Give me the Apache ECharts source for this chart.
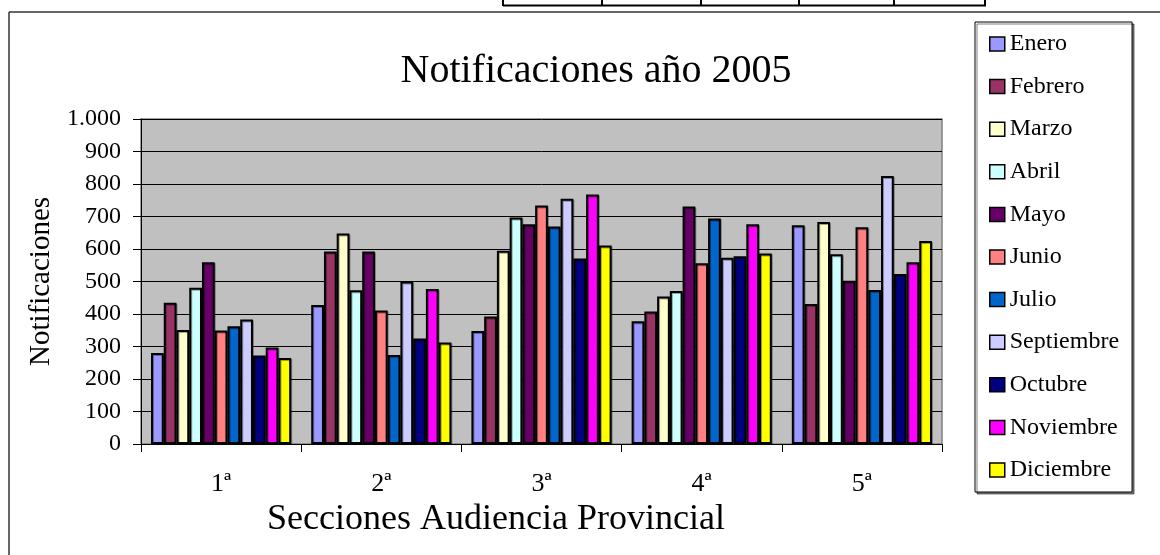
<!DOCTYPE html>
<html>
<head>
<meta charset="utf-8">
<script src="https://cdn.jsdelivr.net/npm/echarts@6/dist/echarts.min.js"></script>
<style>
  html, body { margin: 0; padding: 0; background: #fff; }
  #chart { width: 1160px; height: 555px; }
</style>
</head>
<body>
<div id="chart"></div>
<script>
// secciones
const secciones = ['1ª', '2ª', '3ª', '4ª', '5ª']
const meses = ['Enero', 'Febrero', 'Marzo', 'Abril', 'Mayo', 'Junio', 'Julio', 'Septiembre', 'Octubre', 'Noviembre', 'Diciembre']

// notificaciones por mes (una por sección)
const enero = [280, 428, 348, 378, 673]
const febrero = [435, 592, 392, 408, 431]
const marzo = [351, 648, 595, 454, 683]
const abril = [481, 473, 697, 471, 584]
const mayo = [559, 592, 676, 731, 502]
const junio = [349, 411, 734, 556, 667]
const julio = [362, 274, 669, 694, 474]
const septiembre = [383, 500, 755, 573, 825]
const octubre = [272, 325, 571, 578, 523]
const noviembre = [297, 477, 768, 676, 559]
const diciembre = [265, 312, 611, 586, 625]

const yTicks = [0, 100, 200, 300, 400, 500, 600, 700, 800, 900, 1000]

const valores = [enero, febrero, marzo, abril, mayo, junio, julio, septiembre, octubre, noviembre, diciembre]
const colores = ['#9999FF', '#993366', '#FFFFCC', '#CCFFFF', '#660066', '#FF8080', '#0066CC', '#CCCCFF', '#000080', '#FF00FF', '#FFFF00']

const FONT = '"Liberation Serif", "Times New Roman", serif'

const chart = echarts.init(document.getElementById('chart'), null, { renderer: 'canvas' })

const series = meses.map((m, i) => ({
  name: m,
  type: 'bar',
  data: valores[i],
  barGap: 0,
  barCategoryGap: '12.5%',
  itemStyle: {
    color: colores[i],
    borderColor: '#000',
    borderWidth: 2,
    shadowColor: 'rgba(0,0,0,0.35)',
    shadowOffsetX: 1,
    shadowOffsetY: 1
  },
  animation: false
}))

// marco y restos de la tabla superior
const tablaX = [503, 602, 701, 799, 894, 985]
const graphics = [
  { type: 'line', shape: { x1: 9, y1: 12, x2: 1160, y2: 12 }, style: { stroke: '#333', lineWidth: 1.5 } },
  { type: 'line', shape: { x1: 9, y1: 12, x2: 9, y2: 555 }, style: { stroke: '#333', lineWidth: 1.5 } },
  { type: 'line', shape: { x1: 503, y1: 5.5, x2: 986, y2: 5.5 }, style: { stroke: '#000', lineWidth: 2 } }
]
tablaX.forEach(x => {
  graphics.push({ type: 'line', shape: { x1: x, y1: 0, x2: x, y2: 6 }, style: { stroke: '#000', lineWidth: 2 } })
})

const option = {
  backgroundColor: '#fff',
  title: [
    {
      text: 'Notificaciones año 2005',
      left: 591,
      top: 46,
      textAlign: 'center',
      textStyle: { fontFamily: FONT, fontSize: 40, fontWeight: 'normal', color: '#000' }
    },
    {
      text: 'Secciones Audiencia Provincial',
      left: 491,
      top: 497,
      textAlign: 'center',
      textStyle: { fontFamily: FONT, fontSize: 36, fontWeight: 'normal', color: '#000' }
    }
  ],
  legend: {
    orient: 'vertical',
    left: 975,
    top: 22,
    padding: [10, 13, 10, 14],
    itemWidth: 15,
    itemHeight: 14,
    itemGap: 18.6,
    icon: 'rect',
    backgroundColor: '#fff',
    borderColor: '#000',
    borderWidth: 1,
    shadowColor: 'rgba(0,0,0,0.5)',
    shadowOffsetX: 2,
    shadowOffsetY: 2,
    itemStyle: { borderColor: '#000', borderWidth: 1.5 },
    textStyle: { fontFamily: FONT, fontSize: 24, color: '#000', lineHeight: 24 },
    data: meses
  },
  grid: {
    left: 141,
    right: 218,
    top: 119,
    bottom: 111,
    show: true,
    backgroundColor: '#C0C0C0',
    borderColor: '#808080',
    borderWidth: 1.5
  },
  xAxis: {
    type: 'category',
    data: secciones,
    axisLine: { lineStyle: { color: '#000', width: 1 } },
    axisTick: { show: true, length: 8, lineStyle: { color: '#000' } },
    axisLabel: { fontFamily: FONT, fontSize: 26, color: '#000', margin: 27 }
  },
  yAxis: {
    type: 'value',
    min: yTicks[0],
    max: yTicks[yTicks.length - 1],
    interval: 100,
    name: 'Notificaciones',
    nameLocation: 'middle',
    nameGap: 85,
    nameMoveOverlap: false,
    nameTextStyle: { fontFamily: FONT, fontSize: 29, color: '#000' },
    axisLine: { show: true, lineStyle: { color: '#000', width: 1 } },
    axisTick: { show: true, length: 8, lineStyle: { color: '#000' } },
    splitLine: { lineStyle: { color: '#000', width: 1 } },
    axisLabel: {
      fontFamily: FONT,
      fontSize: 24,
      color: '#000',
      margin: 20,
      formatter: v => String(v).replace(/\B(?=(\d{3})+(?!\d))/g, '.')
    }
  },
  graphic: graphics,
  series: series
}

chart.setOption(option)
</script>
</body>
</html>
